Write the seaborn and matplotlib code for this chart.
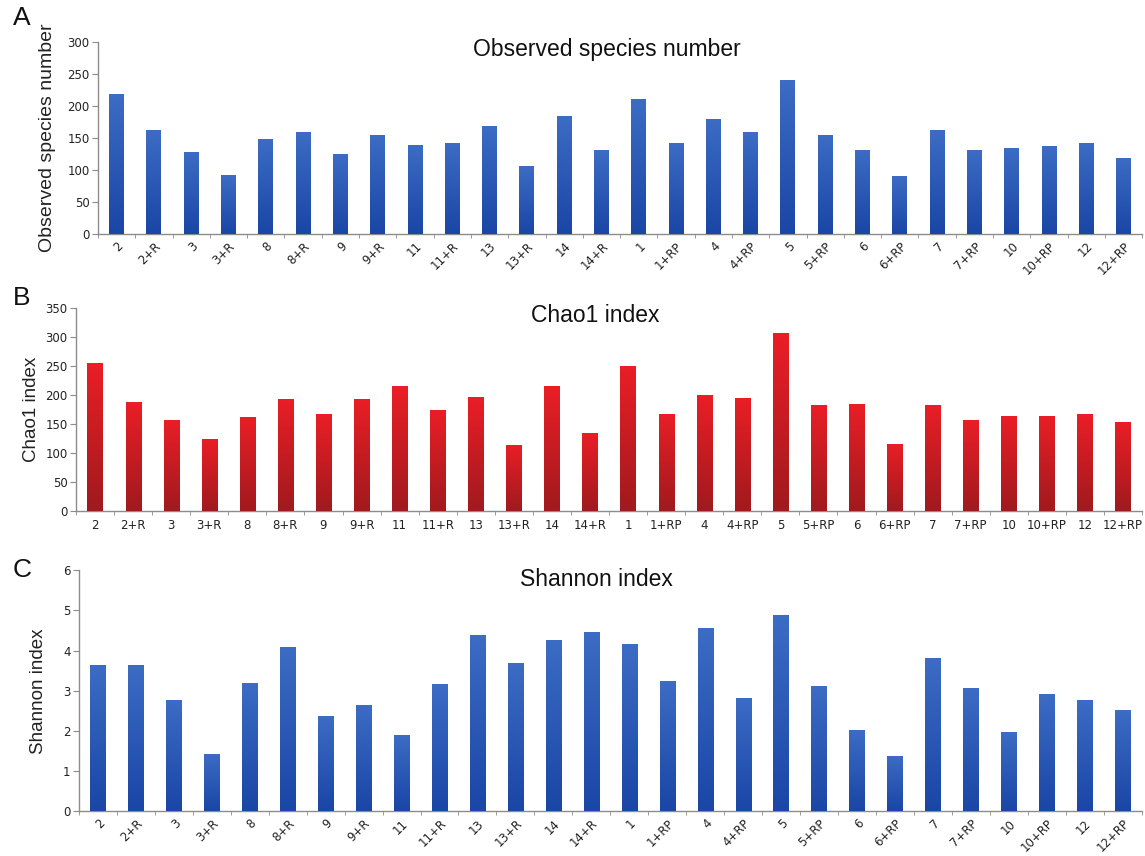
import numpy as np
import pandas as pd
import seaborn as sns
import matplotlib.pyplot as plt
from matplotlib.colors import LinearSegmentedColormap

sns.set_style('white')
plt.rcParams['font.family'] = ['Liberation Sans', 'DejaVu Sans']

# sample names (same order in all three panels)
samples = ['2', '2+R', '3', '3+R', '8', '8+R', '9', '9+R', '11', '11+R',
           '13', '13+R', '14', '14+R', '1', '1+RP', '4', '4+RP', '5', '5+RP',
           '6', '6+RP', '7', '7+RP', '10', '10+RP', '12', '12+RP']

observed = [219, 162, 128, 92, 148, 159, 125, 155, 139, 143,
            169, 106, 184, 131, 211, 143, 180, 159, 241, 155,
            132, 90, 162, 131, 134, 137, 143, 119]

chao1 = [255, 188, 157, 125, 162, 194, 167, 194, 215, 174,
         196, 114, 215, 135, 250, 168, 200, 195, 308, 183,
         185, 116, 183, 157, 164, 164, 167, 153]

shannon = [3.65, 3.63, 2.78, 1.44, 3.20, 4.08, 2.37, 2.64, 1.91, 3.18,
           4.39, 3.70, 4.27, 4.45, 4.16, 3.25, 4.55, 2.82, 4.89, 3.12,
           2.03, 1.39, 3.82, 3.06, 1.97, 2.93, 2.77, 2.52]

blue_grad = LinearSegmentedColormap.from_list('bl', ['#1a46a6', '#3c6cc4'])
red_grad = LinearSegmentedColormap.from_list('rd', ['#a01a1e', '#ea1e26'])

fig = plt.figure(figsize=(11.45, 8.56), dpi=100)

panels = [
    # letter, values, title, ylabel, ymax, ystep, cmap, rotate, rect, letter pos, ylabel x, ylabel size
    ('A', observed, 'Observed species number', 'Observed species number', 300, 50,
     blue_grad, True, [0.0856, 0.7266, 0.912, 0.2243], (0.019, 0.979), -0.040, 14.0),
    ('B', chao1, 'Chao1 index', 'Chao1 index', 350, 50,
     red_grad, False, [0.0664, 0.403, 0.931, 0.237], (0.019, 0.652), -0.034, 13.5),
    ('C', shannon, 'Shannon index', 'Shannon index', 6, 1,
     blue_grad, True, [0.069, 0.052, 0.928, 0.282], (0.019, 0.334), -0.030, 13.5),
]

grad = np.linspace(0, 1, 100).reshape(-1, 1)

for letter, vals, title, ylabel, ymax, ystep, cmap, rotate, rect, lpos, ylx, yls in panels:
    ax = fig.add_axes(rect)
    df = pd.DataFrame({'sample': samples, 'value': vals})
    sns.barplot(data=df, x='sample', y='value', order=samples, color='#2a58b4',
                width=0.4, ax=ax, errorbar=None)

    # vertical gradient fill, lighter at the top (like the original Excel bars)
    for p in ax.patches:
        x0, y0 = p.get_x(), p.get_y()
        w, h = p.get_width(), p.get_height()
        im = ax.imshow(grad, cmap=cmap, origin='lower', aspect='auto',
                       extent=[x0, x0 + w, y0, y0 + h], zorder=3)
        im.set_clip_path(p)
    ax.set_xlim(-0.5, len(samples) - 0.5)
    ax.set_ylim(0, ymax)

    for s in ['top', 'right']:
        ax.spines[s].set_visible(False)
    for s in ['left', 'bottom']:
        ax.spines[s].set_color('#8c8c8c')
        ax.spines[s].set_linewidth(1.0)

    ax.set_yticks(np.arange(0, ymax + ystep / 2, ystep))
    ax.tick_params(axis='y', direction='out', length=4, color='#8c8c8c',
                   labelsize=8.5, labelcolor='#222222', pad=2, left=True)
    for t in ax.get_yticklabels():
        t.set_family('DejaVu Sans')

    # labels at category centres, small tick marks between categories
    ax.set_xticks(np.arange(len(samples)))
    if rotate:
        ax.set_xticklabels(samples, rotation=45, ha='right', rotation_mode='anchor',
                           family='DejaVu Sans')
    else:
        ax.set_xticklabels(samples, family='DejaVu Sans')
    ax.tick_params(axis='x', which='major', length=0, labelsize=8.5,
                   labelcolor='#222222', pad=4 if rotate else 6)
    ax.set_xticks(np.arange(-0.5, len(samples), 1), minor=True)
    ax.tick_params(axis='x', which='minor', direction='out', length=3,
                   color='#8c8c8c', bottom=True)

    ax.set_xlabel('')
    ax.set_ylabel(ylabel, fontsize=yls, color='#222222')
    ax.yaxis.set_label_coords(ylx, 0.5)

    ax.text(0.487, 0.962, title, transform=ax.transAxes, ha='center',
            va='center', fontsize=16.5, color='#111111')

    fig.text(lpos[0], lpos[1], letter, fontsize=19, ha='center', va='center',
             color='#111111')

fig.savefig('out.png', dpi=100)
